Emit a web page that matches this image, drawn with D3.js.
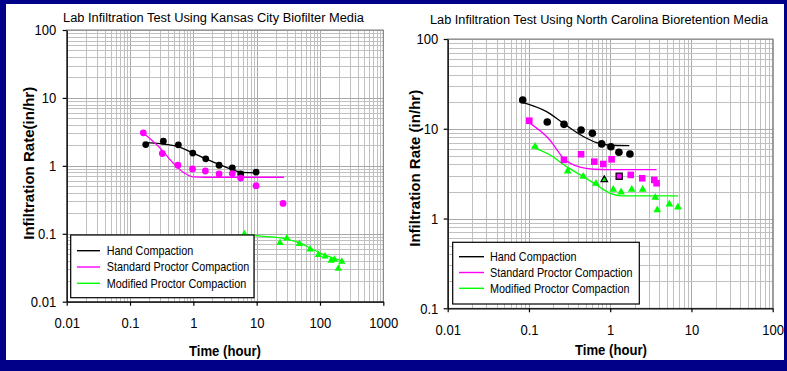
<!DOCTYPE html>
<html>
<head>
<meta charset="utf-8">
<script src="https://cdn.jsdelivr.net/npm/d3@7"></script>
<style>
  html, body { margin: 0; padding: 0; background: #000088; }
  svg { display: block; font-family: "Liberation Sans", Arial, sans-serif; }
</style>
</head>
<body>
<svg id="chart" width="787" height="371"></svg>
<script>
// ---- Kansas City biofilter media (time in hours, rate in in/hr) ----
const kcHandT = [0.177, 0.336, 0.58, 0.98, 1.57, 2.55, 4.13, 5.6, 9.8];
const kcHandV = [2.06, 2.31, 2.04, 1.54, 1.27, 1.02, 0.935, 0.76, 0.81];
const kcHandFitT = [0.18, 0.3, 0.58, 1.0, 1.63, 2.64, 4.29, 5.8, 10];
const kcHandFitV = [2.2, 2.12, 1.92, 1.54, 1.25, 1.03, 0.87, 0.80, 0.79];

const kcStdT = [0.162, 0.324, 0.57, 0.97, 1.55, 2.55, 4.13, 5.6, 9.8, 26.1];
const kcStdV = [3.06, 1.52, 1.02, 0.90, 0.84, 0.76, 0.77, 0.66, 0.51, 0.28];
const kcStdFitT = [0.162, 0.3, 0.48, 0.7, 1.0, 1.5, 27];
const kcStdFitV = [3.05, 1.82, 1.1, 0.8, 0.69, 0.68, 0.68];

const kcModT = [6.4, 23.4, 29.9, 47.3, 69.8, 94.4, 120, 150, 169, 195, 221];
const kcModV = [0.102, 0.0755, 0.0883, 0.073, 0.0608, 0.0502, 0.048, 0.0415, 0.0428, 0.0316, 0.040];
const kcModFitT = [6.4, 9.2, 15, 30, 50, 70, 100, 163, 225];
const kcModFitV = [0.097, 0.0944, 0.091, 0.0835, 0.072, 0.0617, 0.052, 0.044, 0.040];

// ---- North Carolina bioretention media ----
const ncHandT = [0.0838, 0.168, 0.27, 0.438, 0.603, 0.785, 1.02, 1.28, 1.75];
const ncHandV = [20.9, 11.9, 11.2, 9.7, 8.9, 6.78, 6.3, 5.47, 5.23];
const ncHandFitT = [0.083, 0.165, 0.265, 0.467, 0.68, 1.0, 1.72];
const ncHandFitV = [19.7, 15.5, 11.5, 8.2, 7.0, 6.55, 6.5];

const ncStdT = [0.101, 0.27, 0.438, 0.637, 0.822, 1.04, 1.79, 2.48, 3.49, 3.73];
const ncStdV = [12.3, 4.5, 5.2, 4.3, 4.05, 4.57, 3.06, 2.81, 2.69, 2.47];
const ncStdBoxedT = [1.29];
const ncStdBoxedV = [2.96];
const ncStdFitT = [0.1, 0.181, 0.265, 0.425, 0.62, 1.0, 3.73];
const ncStdFitV = [11.7, 7.5, 4.7, 3.73, 3.54, 3.5, 3.5];

const ncModT = [0.119, 0.30, 0.467, 0.668, 1.09, 1.36, 1.84, 2.51, 3.59, 3.8, 5.34, 6.83];
const ncModV = [6.49, 3.45, 3.0, 2.51, 2.15, 2.01, 2.15, 2.15, 1.75, 1.27, 1.48, 1.37];
const ncModBoxedT = [0.845];
const ncModBoxedV = [2.76];
const ncModFitT = [0.108, 0.182, 0.29, 0.467, 0.68, 1.0, 1.39, 6.83];
const ncModFitV = [6.3, 5.1, 3.79, 2.93, 2.37, 1.91, 1.79, 1.79];

// ---- tick labels and legend text ----
const kcXTicks = [0.01, 0.1, 1, 10, 100, 1000];
const kcYTicks = [0.01, 0.1, 1, 10, 100];
const ncXTicks = [0.01, 0.1, 1, 10, 100];
const ncYTicks = [0.1, 1, 10, 100];
const seriesNames = ["Hand Compaction", "Standard Proctor Compaction", "Modified Proctor Compaction"];

const HAND = "#000000", STD = "#ff00ff", MOD = "#00ff00";
const SQ = 0.88; // horizontal squeeze of the lettering

const zip = (a, b) => a.map((v, i) => [v, b[i]]);

const svg = d3.select("#chart");
svg.append("rect").attr("x", 6).attr("y", 4).attr("width", 778).attr("height", 356).attr("fill", "#ffffff");

function hText(g, x, y, str, o = {}) {
  const t = g.append("text")
    .attr("transform", `translate(${x},${y}) scale(${SQ},1)`)
    .attr("text-anchor", o.anchor || "start")
    .attr("font-size", o.size || 12)
    .attr("font-weight", o.weight || "normal")
    .attr("fill", "#000")
    .text(str);
  if (o.width) t.attr("textLength", o.width / SQ).attr("lengthAdjust", "spacingAndGlyphs");
  return t;
}

function logValues(lo, hi) {
  const out = [];
  const d0 = Math.round(Math.log10(lo)), d1 = Math.round(Math.log10(hi));
  for (let d = d0; d < d1; d++)
    for (let k = 1; k <= 9; k++) out.push({ v: +(k * Math.pow(10, d)).toPrecision(6), major: k === 1 });
  out.push({ v: hi, major: true });
  return out;
}

function drawPanel(c) {
  const g = svg.append("g");
  const x = d3.scaleLog().domain([c.xTicks[0], c.xTicks[c.xTicks.length - 1]]).range([c.left, c.right]);
  const y = d3.scaleLog().domain([c.yTicks[0], c.yTicks[c.yTicks.length - 1]]).range([c.bottom, c.top]);

  // grid
  const grid = g.append("g").attr("shape-rendering", "crispEdges");
  logValues(x.domain()[0], x.domain()[1]).forEach(t => {
    const px = Math.round(x(t.v)) + 0.5;
    grid.append("line").attr("x1", px).attr("x2", px).attr("y1", c.top).attr("y2", c.bottom)
      .attr("stroke", t.major ? "#a8a8a8" : "#c0c0c0").attr("stroke-width", 1);
  });
  logValues(y.domain()[0], y.domain()[1]).forEach(t => {
    const py = Math.round(y(t.v)) + 0.5;
    grid.append("line").attr("x1", c.left).attr("x2", c.right).attr("y1", py).attr("y2", py)
      .attr("stroke", t.major ? "#a8a8a8" : "#c0c0c0").attr("stroke-width", 1);
  });
  g.append("rect").attr("x", c.left).attr("y", c.top)
    .attr("width", c.right - c.left).attr("height", c.bottom - c.top)
    .attr("fill", "none").attr("stroke", "#808080").attr("stroke-width", 1);

  // fitted curves
  const line = d3.line().x(d => x(d[0])).y(d => y(d[1])).curve(d3.curveMonotoneX);
  c.fits.forEach(f => {
    g.append("path").attr("d", line(f.pts)).attr("fill", "none")
      .attr("stroke", f.color).attr("stroke-width", 1.3);
  });

  // measured points
  c.points.forEach(s => {
    const r = s.r;
    s.pts.forEach(p => {
      const cx = x(p[0]), cy = y(p[1]);
      let m;
      if (s.shape === "circle") {
        m = g.append("circle").attr("cx", cx).attr("cy", cy).attr("r", r);
      } else if (s.shape === "square") {
        m = g.append("rect").attr("x", cx - r).attr("y", cy - r).attr("width", 2 * r).attr("height", 2 * r);
      } else {
        m = g.append("path").attr("d", `M${cx},${cy - r}L${cx + r * 1.05},${cy + r * 0.85}L${cx - r * 1.05},${cy + r * 0.85}Z`);
      }
      m.attr("fill", s.color);
      if (s.outline) m.attr("stroke", "#000").attr("stroke-width", 1.2);
    });
  });

  // legend
  const L = c.legend;
  g.append("rect").attr("x", L.x).attr("y", L.y).attr("width", L.w).attr("height", L.h)
    .attr("fill", "#fff").attr("stroke", "#000").attr("stroke-width", 1.2);
  [HAND, STD, MOD].forEach((col, i) => {
    const ry = L.row0 + i * L.step;
    g.append("line").attr("x1", L.lx0).attr("x2", L.lx1).attr("y1", ry).attr("y2", ry)
      .attr("stroke", col).attr("stroke-width", 1.4);
    hText(g, L.tx, ry, seriesNames[i], { size: 12.3 }).attr("dy", "0.36em");
  });

  // axes
  const fmt = d => String(d);
  const ya = g.append("g").attr("transform", `translate(${c.left},0)`)
    .call(d3.axisLeft(y).tickValues(c.yTicks).tickFormat(fmt).tickSize(4).tickSizeOuter(0).tickPadding(c.yPad));
  const xa = g.append("g").attr("transform", `translate(0,${c.bottom})`)
    .call(d3.axisBottom(x).tickValues(c.xTicks).tickFormat(fmt).tickSize(4).tickSizeOuter(0).tickPadding(12));
  [ya, xa].forEach(a => {
    a.select(".domain").attr("stroke", "#000").attr("stroke-width", 1.2);
    a.selectAll(".tick line").attr("stroke", "#000").attr("stroke-width", 1.2);
    a.selectAll(".tick text").attr("font-size", 14.8).attr("fill", "#000")
      .attr("font-family", '"Liberation Sans", Arial, sans-serif')
      .attr("transform", `scale(${SQ},1)`);
  });

  // titles
  hText(g, c.titleX, c.titleY, c.title, { anchor: "middle", size: 13.3, width: c.titleW });
  hText(g, c.xLabX, c.xLabY, "Time (hour)", { anchor: "middle", size: 15, weight: "bold", width: 72 })
    .attr("dy", "0.36em");
  g.append("text")
    .attr("transform", `translate(${c.yLabX},${c.yLabY}) rotate(-90)`)
    .attr("text-anchor", "middle").attr("dy", "0.36em")
    .attr("font-size", 15).attr("font-weight", "bold")
    .attr("textLength", c.yLabW).attr("lengthAdjust", "spacingAndGlyphs")
    .text(c.yLab);
}

drawPanel({
  left: 66.7, right: 383.3, top: 30, bottom: 301.7,
  xTicks: kcXTicks, yTicks: kcYTicks, yPad: 8,
  title: "Lab Infiltration Test Using Kansas City Biofilter Media",
  titleX: 213.5, titleY: 21.5, titleW: 301,
  xLabX: 225, xLabY: 351,
  yLab: "Infiltration Rate(in/hr)", yLabX: 28.5, yLabY: 163.3, yLabW: 153,
  fits: [
    { color: HAND, pts: zip(kcHandFitT, kcHandFitV) },
    { color: STD, pts: zip(kcStdFitT, kcStdFitV) },
    { color: MOD, pts: zip(kcModFitT, kcModFitV) }
  ],
  points: [
    { shape: "circle", color: HAND, r: 3.4, pts: zip(kcHandT, kcHandV) },
    { shape: "circle", color: STD, r: 3.4, pts: zip(kcStdT, kcStdV) },
    { shape: "triangle", color: MOD, r: 3.5, pts: zip(kcModT, kcModV) }
  ],
  legend: { x: 70.7, y: 235, w: 183.3, h: 62.7, row0: 250.7, step: 16.3, lx0: 77, lx1: 100, tx: 106.7 }
});

drawPanel({
  left: 447.7, right: 772.7, top: 39, bottom: 308.3,
  xTicks: ncXTicks, yTicks: ncYTicks, yPad: 6.7,
  title: "Lab Infiltration Test Using North Carolina Bioretention Media",
  titleX: 599, titleY: 23.5, titleW: 338,
  xLabX: 611, xLabY: 350,
  yLab: "Infiltration Rate (in/hr)", yLabX: 414.7, yLabY: 168.3, yLabW: 157,
  fits: [
    { color: HAND, pts: zip(ncHandFitT, ncHandFitV) },
    { color: STD, pts: zip(ncStdFitT, ncStdFitV) },
    { color: MOD, pts: zip(ncModFitT, ncModFitV) }
  ],
  points: [
    { shape: "circle", color: HAND, r: 3.8, pts: zip(ncHandT, ncHandV) },
    { shape: "square", color: STD, r: 3.3, pts: zip(ncStdT, ncStdV) },
    { shape: "square", color: STD, r: 3.1, outline: true, pts: zip(ncStdBoxedT, ncStdBoxedV) },
    { shape: "triangle", color: MOD, r: 3.7, pts: zip(ncModT, ncModV) },
    { shape: "triangle", color: MOD, r: 3.1, outline: true, pts: zip(ncModBoxedT, ncModBoxedV) }
  ],
  legend: { x: 452.7, y: 242.3, w: 186.6, h: 61.7, row0: 256.7, step: 15.8, lx0: 459, lx1: 484, tx: 490 }
});
</script>
</body>
</html>
